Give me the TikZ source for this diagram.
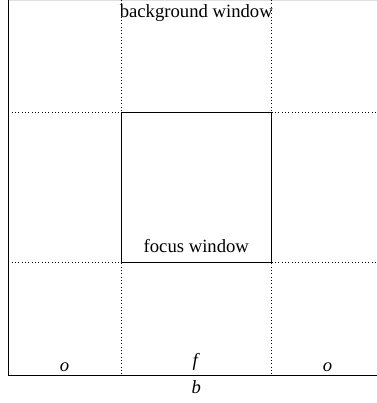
\documentclass[tikz,border=0pt]{standalone}
\usepackage{fontspec}
\setmainfont{Liberation Serif}
\begin{document}
\begin{tikzpicture}[x=0.75pt,y=-0.75pt,
  grid/.style={dotted,line width=0.5pt},
  frame/.style={line width=0.7pt},
  lbl/.style={font=\fontsize{14}{16}\selectfont,anchor=base,inner sep=0pt}]
\useasboundingbox (0,0) rectangle (377,403);
\coordinate (tl) at (8.3,0);
\coordinate (bl) at (8.3,375);
\coordinate (br) at (377,375);
\coordinate (tr) at (377,0.4);
\coordinate (v1t) at (121,0);
\coordinate (v1b) at (121,375);
\coordinate (v2t) at (271.5,0);
\coordinate (v2b) at (271.5,375);
\coordinate (h1l) at (8.3,112.3);
\coordinate (h1r) at (377,112.3);
\coordinate (h2l) at (8.3,262.3);
\coordinate (h2r) at (377,262.3);
\draw[gray!25,line width=0.6pt] (8.3,0.4) -- (tr);
\draw[grid] (v1t) -- (v1b);
\draw[grid] (v2t) -- (v2b);
\draw[grid] (h1l) -- (h1r);
\draw[grid] (h2l) -- (h2r);
\draw[frame] (tl) -- (bl) -- (br);
\draw[frame] (121,112.3) rectangle (271.5,262.3);
\node[lbl] (bg) at (196.3,17.5) {background window};
\node[lbl] (fw) at (196.3,252.5) {focus window};
\node[lbl] (o1) at (64.5,371) {\textit{o}};
\node[lbl] (f) at (196.3,366.5) {\textit{f}};
\node[lbl] (o2) at (327.5,371) {\textit{o}};
\node[lbl] (b) at (196.3,393) {\textit{b}};
\end{tikzpicture}
\end{document}
